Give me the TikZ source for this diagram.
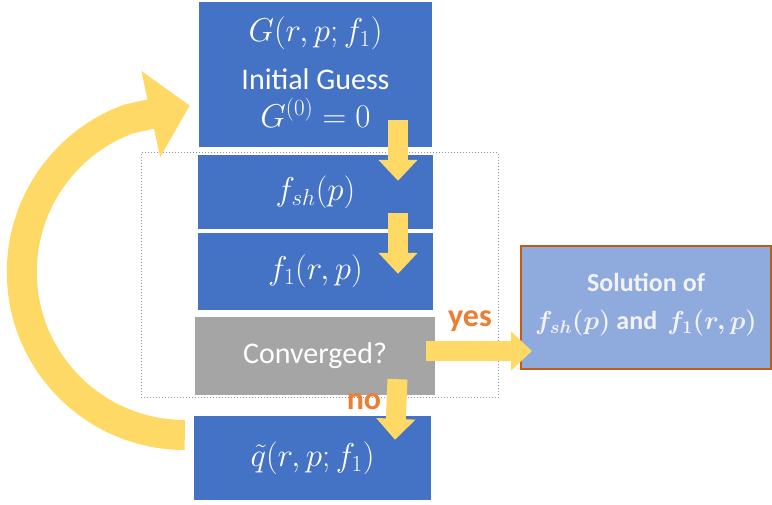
\RequirePackage{fix-cm}
\documentclass[tikz,border=0pt]{standalone}
\usepackage{amsmath, amssymb, bm}
\usepackage[no-math]{fontspec}
\setmainfont{Carlito}
\usepackage{tikz}
\usetikzlibrary{arrows.meta, positioning, calc}
\definecolor{BoxBlue}{HTML}{4472C4}
\definecolor{BoxGray}{HTML}{A5A5A5}
\definecolor{SolBlue}{HTML}{8FAADC}
\definecolor{SolBorder}{HTML}{C55A11}
\definecolor{FlowGold}{HTML}{FFD966}
\definecolor{TagOrange}{HTML}{ED7D31}
\definecolor{FrameGray}{HTML}{8497B0}
\newcommand{\mth}[1]{{\fontsize{33}{34}\selectfont$#1$}}

\begin{document}
\begin{tikzpicture}[x=1pt, y=-1pt,
    box/.style={fill=BoxBlue, text=white, align=center, inner sep=0pt, font=\fontsize{30}{34}\selectfont},
    flow/.style={draw=FlowGold, line width=20pt, -{Triangle[length=21pt, width=38pt]}},
    tag/.style={text=TagOrange, font=\fontsize{32}{34}\selectfont\bfseries}]
    \useasboundingbox (0,0) rectangle (772,505);

    % Dotted frame round the inner loop
    \node[draw=FrameGray, dotted, line width=1pt, minimum width=357pt, minimum height=245pt] (frame) at (319.5,275.5) {};

    % Boxes
    \node[box, minimum width=233pt, minimum height=145pt] (guess) at (315.5,74.5)
        {\mth{G(r,p;f_1)}\\[14pt] Initial Guess\\[4pt] \mth{G^{(0)}=0}\\[-30pt]\mbox{}};
    \node[box, minimum width=235pt, minimum height=74pt] (fsh) at (315.5,192) {\mth{f_{sh}(p)}};
    \node[box, minimum width=235pt, minimum height=77pt] (fone) at (315.5,271.5) {\mth{f_1(r,p)}};
    \node[box, fill=BoxGray, minimum width=240pt, minimum height=78pt] (conv) at (315,356) {Converged?};
    \node[box, minimum width=237pt, minimum height=84pt] (qt) at (312.5,458) {\mth{\tilde{q}(r,p;f_1)}};
    \node[box, fill=SolBlue, draw=SolBorder, line width=2pt, text=white!95!black,
        minimum width=250pt, minimum height=123pt, font=\fontsize{26}{38}\selectfont\bfseries] (sol) at (646,307.5)
        {Solution of\\ $\bm{f_{sh}(p)}$ and\, $\bm{f_1(r,p)}$\\[-26pt]\mbox{}};

    % Flow arrows
    \draw[flow] ($(guess.south)+(82.5,-27)$) -- ($(fsh.north)+(82.5,26)$);
    \draw[flow] ($(fsh.south)+(82.5,-16)$) -- ($(fone.north)+(82.5,41)$);
    \draw[flow] ($(conv.south)+(82.5,-16)$) -- ($(qt.north)+(82.5,24)$);
    \draw[flow] ($(conv.east)+(-9,-5)$) -- ($(sol.west)+(12,43.5)$);

    % Loop back to the guess
    \draw[draw=FlowGold, line width=30pt, line join=round, -{Triangle[length=40pt, width=86pt]}]
        ($(qt.west)+(-9,-23)$) arc[start angle=90, end angle=250, radius=163] -- ($(guess.west)+(-9,31)$);

    % Branch labels
    \node[tag] (yes) at (470,321) {yes};
    \node[tag] (no) at (364,402) {no};
\end{tikzpicture}
\end{document}
